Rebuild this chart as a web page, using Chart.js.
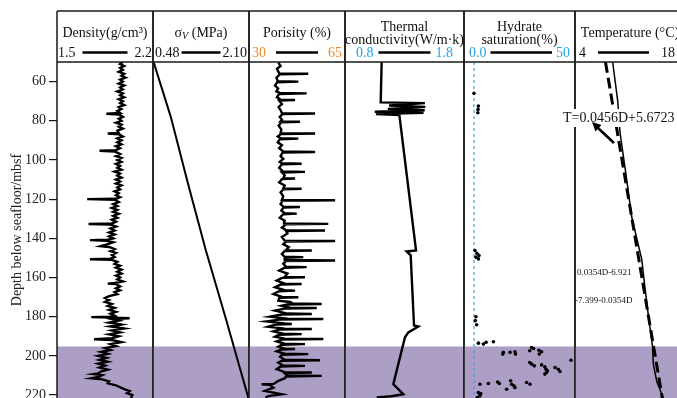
<!DOCTYPE html>
<html>
<head>
<meta charset="utf-8">
<script src="https://cdn.jsdelivr.net/npm/chart.js@4.4.0/dist/chart.umd.min.js"></script>
<style>
  html, body { margin: 0; padding: 0; background: #fff; overflow: hidden; }
  #wrap { position: relative; width: 677px; height: 398px; overflow: hidden; background: #fff; }
  #wrap canvas { position: absolute; left: 0; top: 0; }
</style>
</head>
<body>
<div id="wrap"></div>
<script>
// depth axis (mbsf)
const DEPTH_MIN = 50;
const DEPTH_MAX = 221.5;
const depthTicks = [60, 80, 100, 120, 140, 160, 180, 200, 220];
const hydrateZoneTop = 195.2;

// [depth, density g/cm3]
const densityLog = [
  [50.0, 1.98], [51.0, 1.96], [52.0, 1.99], [53.0, 1.96], [54.0, 1.98], [55.0, 1.95], [56.0, 1.99], [57.0, 1.97],
  [58.0, 2.00], [59.0, 1.96], [60.0, 1.98], [61.0, 1.95], [62.0, 1.99], [63.0, 1.96], [64.0, 1.98], [65.0, 1.94],
  [66.0, 1.98], [67.0, 1.96], [68.0, 1.99], [69.0, 1.95], [70.0, 1.98], [71.0, 1.96], [72.0, 1.99], [73.0, 1.95],
  [74.0, 1.97], [75.0, 1.94], [76.0, 1.96], [76.4, 1.86], [76.8, 1.95], [78.0, 1.98], [79.0, 1.95], [80.0, 1.97],
  [81.0, 1.93], [82.0, 1.97], [83.0, 1.95], [84.0, 1.98], [85.0, 1.94], [86.2, 1.95], [86.5, 1.87], [86.9, 1.95],
  [88.0, 1.98], [89.0, 1.94], [90.0, 1.97], [91.0, 1.94], [92.0, 1.97], [93.0, 1.93], [94.0, 1.96], [95.0, 1.93],
  [95.3, 1.81], [95.7, 1.92], [97.0, 1.96], [98.0, 1.93], [99.0, 1.97], [100.0, 1.94], [101.0, 1.97], [102.0, 1.93],
  [103.0, 1.96], [104.0, 1.94], [105.0, 1.97], [106.0, 1.92], [107.0, 1.96], [108.0, 1.94], [109.0, 1.97], [110.0, 1.93],
  [111.0, 1.96], [112.0, 1.93], [113.0, 1.97], [114.0, 1.94], [115.0, 1.96], [116.0, 1.92], [117.0, 1.95], [118.0, 1.93],
  [119.0, 1.96], [119.8, 1.93], [120.0, 1.72], [120.3, 1.92], [121.5, 1.95], [122.5, 1.91], [123.5, 1.94], [124.5, 1.90],
  [125.5, 1.94], [126.5, 1.91], [127.5, 1.95], [128.5, 1.91], [129.5, 1.94], [130.5, 1.90], [131.5, 1.93], [132.4, 1.90],
  [132.7, 1.73], [133.0, 1.89], [134.0, 1.93], [135.0, 1.89], [136.0, 1.92], [137.0, 1.88], [138.0, 1.92], [139.0, 1.88],
  [140.0, 1.91], [140.7, 1.87], [140.9, 1.74], [141.2, 1.86], [142.0, 1.91], [143.0, 1.87], [144.0, 1.82], [144.4, 1.88],
  [145.5, 1.92], [146.5, 1.89], [147.5, 1.93], [148.5, 1.90], [149.5, 1.92], [150.4, 1.89], [150.7, 1.74], [151.0, 1.90],
  [152.0, 1.94], [153.0, 1.92], [154.0, 1.96], [155.0, 1.93], [156.0, 1.97], [157.0, 1.94], [158.0, 1.97], [159.0, 1.93],
  [160.0, 1.96], [161.0, 1.94], [162.0, 1.98], [162.8, 1.92], [163.1, 1.87], [163.4, 1.93], [164.5, 1.96], [165.5, 1.93],
  [166.5, 1.96], [167.5, 1.92], [168.5, 1.94], [169.5, 1.88], [170.5, 1.85], [171.5, 1.88], [172.5, 1.85], [173.5, 1.90],
  [174.5, 1.87], [175.5, 1.92], [176.5, 1.88], [177.5, 1.93], [178.5, 1.89], [179.5, 1.92], [180.0, 1.88], [180.2, 1.75],
  [180.5, 1.90], [180.8, 2.03], [181.2, 1.90], [182.0, 1.95], [183.0, 1.88], [184.0, 1.97], [185.0, 1.89], [186.0, 1.99],
  [187.0, 1.90], [188.0, 1.96], [189.0, 1.88], [190.0, 1.95], [191.0, 1.90], [191.5, 1.77], [191.9, 1.90], [193.0, 1.97],
  [194.0, 1.89], [195.0, 1.93], [196.0, 1.85], [197.0, 1.89], [198.0, 1.82], [199.0, 1.87], [200.0, 1.80], [201.0, 1.86],
  [202.0, 1.81], [203.0, 1.87], [204.0, 1.80], [205.0, 1.85], [206.0, 1.81], [207.0, 1.87], [208.0, 1.82], [209.0, 1.80],
  [209.3, 1.77], [209.8, 1.83], [210.8, 1.80], [211.5, 1.75], [212.0, 1.83], [213.0, 1.88], [214.0, 1.87], [215.0, 1.93],
  [216.0, 1.96], [217.0, 1.99], [218.0, 2.03], [219.0, 2.01], [220.0, 2.05], [221.5, 2.04]
];

// [depth, vertical stress MPa]
const stressLog = [[50, 0.49], [78, 0.78], [112, 1.07], [146, 1.37], [180, 1.70], [221.5, 2.09]];

// [depth, porosity %]
const porosityLog = [
  [50.3, 40.7], [52.0, 41.5], [53.5, 40.2], [55.8, 41.0], [56.0, 51.6], [56.3, 41.2], [58.0, 40.0], [59.8, 40.5],
  [60.0, 48.0], [60.3, 40.3], [62.0, 39.5], [63.5, 40.6], [65.0, 40.0], [65.8, 41.2], [66.0, 51.0], [66.3, 41.0],
  [68.0, 40.2], [69.2, 41.5], [69.4, 46.8], [69.7, 41.0], [71.5, 42.0], [73.0, 40.8], [74.5, 41.5], [76.1, 42.0],
  [76.3, 54.1], [76.6, 42.2], [78.0, 41.2], [79.5, 42.0], [80.3, 41.5], [80.5, 48.6], [80.8, 41.8], [82.5, 40.8],
  [84.5, 41.8], [86.3, 41.5], [86.5, 54.1], [86.8, 41.6], [88.0, 40.5], [88.9, 41.5], [89.1, 48.0], [89.4, 41.2],
  [91.0, 40.5], [92.5, 42.0], [94.0, 41.0], [95.7, 42.5], [95.9, 54.1], [96.2, 42.3], [98.0, 41.5], [99.5, 42.5],
  [101.0, 41.2], [101.7, 42.0], [101.9, 49.2], [102.2, 42.0], [104.0, 41.0], [105.9, 42.5], [106.1, 50.4], [106.4, 42.0],
  [107.8, 43.0], [109.3, 42.5], [109.5, 46.8], [109.8, 42.0], [111.5, 41.0], [113.0, 43.0], [114.5, 42.5], [114.7, 49.2],
  [115.0, 42.5], [116.5, 41.5], [118.5, 42.5], [120.4, 42.0], [120.6, 61.4], [120.9, 42.2], [122.5, 41.5], [123.8, 42.5],
  [124.0, 48.6], [124.3, 42.5], [125.8, 41.8], [127.2, 43.0], [127.4, 47.4], [127.7, 42.5], [129.5, 41.2], [131.0, 43.0],
  [132.4, 42.8], [132.6, 58.9], [132.9, 43.5], [134.5, 42.0], [135.8, 43.5], [136.0, 57.7], [136.3, 43.5], [137.5, 44.0],
  [139.3, 42.0], [141.2, 43.0], [141.4, 61.4], [141.7, 43.5], [143.0, 42.5], [144.5, 44.5], [146.0, 43.5], [146.2, 52.9],
  [146.5, 43.0], [148.0, 42.0], [149.4, 43.0], [149.6, 49.8], [149.9, 43.0], [151.1, 43.0], [151.3, 61.4], [151.6, 43.5],
  [153.0, 42.5], [154.5, 43.5], [154.7, 51.0], [155.0, 43.0], [156.5, 41.0], [158.0, 44.0], [159.7, 43.0], [159.9, 50.4],
  [160.2, 42.0], [161.6, 40.1], [163.1, 43.0], [163.3, 49.2], [163.6, 41.5], [165.0, 39.5], [166.5, 43.0], [166.7, 46.8],
  [167.0, 41.0], [168.4, 38.9], [169.9, 42.0], [170.1, 48.0], [170.4, 41.0], [171.8, 40.7], [172.5, 45.0], [173.3, 46.0],
  [173.5, 56.5], [173.8, 44.0], [174.4, 41.9], [175.4, 45.0], [175.6, 54.7], [175.9, 43.0], [176.9, 39.5], [178.4, 44.0],
  [178.6, 52.9], [178.9, 42.0], [180.0, 37.6], [181.0, 44.0], [181.2, 57.1], [181.5, 41.0], [182.4, 36.4], [183.5, 43.0],
  [183.7, 45.6], [184.0, 40.0], [185.1, 37.0], [186.1, 43.0], [186.3, 52.9], [186.6, 41.0], [187.5, 38.9], [188.7, 42.5],
  [188.9, 49.2], [189.2, 41.0], [190.2, 39.5], [191.2, 43.0], [191.4, 57.1], [191.7, 42.0], [192.6, 40.1], [193.8, 43.0],
  [194.0, 50.4], [194.3, 42.0], [195.3, 40.7], [196.3, 43.0], [196.5, 46.8], [196.8, 41.5], [197.7, 40.1], [198.9, 43.0],
  [199.1, 51.6], [199.4, 42.0], [200.5, 41.3], [202.0, 43.0], [202.2, 55.9], [202.5, 42.0], [203.4, 40.7], [204.9, 42.5],
  [205.1, 50.4], [205.4, 41.5], [206.8, 40.1], [208.3, 43.0], [208.5, 52.9], [208.8, 43.0], [210.0, 44.0], [210.2, 56.5],
  [210.5, 43.5], [211.4, 43.1], [212.7, 40.7], [214.3, 39.0], [214.5, 34.6], [214.8, 37.5], [216.2, 38.9], [217.9, 35.8],
  [219.6, 41.9], [220.5, 37.0], [221.5, 36.0]
];

// [depth, thermal conductivity W/m.k]
const thermalLog = [
  [50.0, 1.108], [70.6, 1.100], [71.0, 1.472], [72.2, 1.170], [72.9, 1.475], [73.9, 1.160], [74.6, 1.470],
  [75.4, 1.050], [75.9, 1.460], [76.6, 1.060], [77.1, 1.257], [146.2, 1.397], [146.7, 1.318], [148.7, 1.352],
  [184.5, 1.380], [185.0, 1.416], [188.0, 1.332], [190.5, 1.304], [214.4, 1.206], [219.6, 1.290], [220.6, 1.190],
  [221.2, 1.066]
];

// [depth, hydrate saturation %]
const hydrateSamples = [
  [66.0, 0.0], [72.5, 2.3], [74.2, 2.1], [75.9, 2.0],
  [146.2, 0.5], [147.6, 1.5], [148.8, 2.6], [149.6, 1.0], [150.5, 2.3],
  [180.0, 1.0], [182.0, 0.7], [184.1, 1.4],
  [193.5, 2.3], [194.0, 4.9], [193.1, 6.3], [192.8, 10.1],
  [198.2, 15.3], [199.1, 15.0], [198.2, 18.8], [197.9, 21.3], [199.1, 21.6],
  [195.7, 30.0], [196.2, 31.0], [197.4, 29.0], [197.1, 33.8], [199.1, 34.0], [197.9, 35.2],
  [203.4, 29.0], [204.2, 30.0], [205.1, 31.4], [204.6, 35.2], [205.6, 36.9], [206.8, 37.5], [207.6, 38.2],
  [208.5, 37.8], [209.3, 36.9], [205.9, 42.2], [206.8, 43.9], [208.0, 44.8], [202.2, 50.5],
  [214.5, 3.1], [214.1, 7.5], [213.3, 12.3], [214.1, 13.2], [212.7, 19.1], [214.5, 19.6], [215.3, 20.8],
  [216.2, 21.3], [213.6, 27.4], [214.5, 29.2], [217.0, 17.0],
  [218.7, 2.3], [219.6, 3.1], [220.4, 3.1], [221.3, 1.7], [219.2, 3.5]
];

// [depth, temperature C]
const temperatureLog = [
  [50, 9.07], [70, 9.75], [86, 10.06], [110, 10.96], [129, 11.63], [151, 13.0], [163, 13.35],
  [180, 13.89], [195, 14.43], [204, 14.54], [213, 15.0], [221.5, 15.88]
];
const temperatureFit = [[50, 8.1], [221.5, 15.75]];

const SERIF = '"Liberation Serif", "Times New Roman", serif';
const PURPLE = '#ad9ec6';
const ORANGE = '#ef8a2a';
const BLUE = '#24a3e2';
const CANVAS_W = 695;
const CANVAS_H = 398;
const FRAME_TOP = 11;
const HEADER_BOTTOM = 62;

Chart.defaults.font.family = SERIF;

function toPoints(rows) {
  return rows.map((r) => ({ x: r[1], y: r[0] }));
}

function logLine(rows, width, extra) {
  return Object.assign({
    data: toPoints(rows),
    borderColor: '#000',
    borderWidth: width,
    pointRadius: 0,
    tension: 0,
    fill: false,
  }, extra || {});
}

function drawRich(ctx, parts, cx, y, size) {
  const fontFor = (p) => (p.italic ? 'italic ' : '') + (p.sub ? size * 0.72 : size) + 'px ' + SERIF;
  const widths = parts.map((p) => {
    ctx.font = fontFor(p);
    return ctx.measureText(p.t).width;
  });
  let x = cx - widths.reduce((a, b) => a + b, 0) / 2;
  ctx.textAlign = 'left';
  parts.forEach((p, i) => {
    ctx.font = fontFor(p);
    ctx.fillText(p.t, x, y + (p.sub ? 3 : 0));
    x += widths[i];
  });
}

function annotateTemperature(ctx) {
  ctx.save();
  ctx.fillStyle = '#fff';
  ctx.fillRect(562, 109, 116, 18);
  ctx.fillStyle = '#111';
  ctx.font = '14px ' + SERIF;
  ctx.textAlign = 'left';
  ctx.textBaseline = 'middle';
  ctx.fillText('T=0.0456D+5.6723', 563, 118);

  // arrow
  ctx.strokeStyle = '#000';
  ctx.lineWidth = 2.6;
  ctx.beginPath();
  ctx.moveTo(614, 143);
  ctx.lineTo(598, 128);
  ctx.stroke();
  ctx.fillStyle = '#000';
  ctx.beginPath();
  ctx.moveTo(592, 122);
  ctx.lineTo(601.5, 125);
  ctx.lineTo(595.5, 131.5);
  ctx.closePath();
  ctx.fill();

  ctx.fillStyle = '#111';
  ctx.font = '9px ' + SERIF;
  ctx.fillText('0.0354D-6.921', 577, 273);
  ctx.fillText('-7.399-0.0354D', 575, 301);
  ctx.restore();
}

const panels = [
  {
    left: 57, right: 153, min: 1.5, max: 2.2,
    title: [[{ t: 'Density(g/cm³)' }]],
    lo: '1.5', hi: '2.2', color: '#111', inset: 1, gap: 7,
    datasets: [logLine(densityLog, 2.4)],
  },
  {
    left: 153, right: 249, min: 0.48, max: 2.10,
    title: [[{ t: 'σ' }, { t: 'V', sub: true, italic: true }, { t: ' (MPa)' }]],
    lo: '0.48', hi: '2.10', color: '#111', inset: 2, gap: 2,
    datasets: [logLine(stressLog, 2)],
  },
  {
    left: 249, right: 345, min: 30, max: 65,
    title: [[{ t: 'Porisity (%)' }]],
    lo: '30', hi: '65', color: ORANGE, inset: 3, gap: 10,
    datasets: [logLine(porosityLog, 2.4)],
  },
  {
    left: 345, right: 464, min: 0.8, max: 1.8,
    title: [[{ t: 'Thermal' }], [{ t: 'conductivity(W/m·k)' }]],
    lo: '0.8', hi: '1.8', color: BLUE, inset: 11, gap: 5,
    datasets: [logLine(thermalLog, 2.4)],
  },
  {
    left: 464, right: 575, min: -5.2, max: 52.6,
    title: [[{ t: 'Hydrate' }], [{ t: 'saturation(%)' }]],
    lo: '0.0', hi: '50', color: BLUE, inset: 5, gap: 4,
    datasets: [
      {
        data: toPoints(hydrateSamples),
        showLine: false,
        pointRadius: 1.8,
        pointBackgroundColor: '#000',
        pointBorderWidth: 0,
      },
      logLine([[DEPTH_MIN, 0], [DEPTH_MAX, 0]], 1.2, { borderColor: '#3b9fdf', borderDash: [3, 3] }),
    ],
  },
  {
    left: 575, right: 679, min: 4, max: 18, titleShift: 3,
    title: [[{ t: 'Temperature (°C)' }]],
    lo: '4', hi: '18', color: '#111', inset: 4, gap: 12,
    datasets: [
      logLine(temperatureLog, 1.5),
      logLine(temperatureFit, 3, { borderDash: [11, 5] }),
    ],
    annotate: annotateTemperature,
  },
];

function makeFrame(panel) {
  return {
    id: 'logFrame',
    beforeDatasetsDraw(chart) {
      const { ctx, chartArea: a, scales } = chart;
      const yTop = scales.y.getPixelForValue(hydrateZoneTop);
      ctx.save();
      ctx.fillStyle = PURPLE;
      ctx.fillRect(a.left, yTop, a.right - a.left, a.bottom - yTop);
      ctx.restore();
    },
    afterDraw(chart) {
      const { ctx, chartArea: a } = chart;
      ctx.save();
      ctx.strokeStyle = '#1a1a1a';
      ctx.lineWidth = 1.5;
      ctx.beginPath();
      ctx.moveTo(a.left, FRAME_TOP); ctx.lineTo(a.left, a.bottom);
      ctx.moveTo(a.right, FRAME_TOP); ctx.lineTo(a.right, a.bottom);
      ctx.moveTo(a.left, FRAME_TOP); ctx.lineTo(a.right, FRAME_TOP);
      ctx.moveTo(a.left, a.top); ctx.lineTo(a.right, a.top);
      ctx.stroke();

      // header title
      ctx.fillStyle = '#111';
      ctx.textBaseline = 'middle';
      const cx = (a.left + a.right) / 2 + (panel.titleShift || 0);
      const rows = panel.title.length === 1 ? [33] : [27, 40];
      panel.title.forEach((line, i) => drawRich(ctx, line, cx, rows[i], 14));

      // range row: lo ---- hi
      ctx.font = '14px ' + SERIF;
      ctx.fillStyle = panel.color;
      ctx.textAlign = 'left';
      const lx = a.left + panel.inset;
      ctx.fillText(panel.lo, lx, 53);
      const lw = ctx.measureText(panel.lo).width;
      ctx.textAlign = 'right';
      const rx = a.right - panel.inset;
      ctx.fillText(panel.hi, rx, 53);
      const rw = ctx.measureText(panel.hi).width;
      ctx.strokeStyle = '#000';
      ctx.lineWidth = 2.5;
      ctx.beginPath();
      ctx.moveTo(lx + lw + panel.gap, 52.5);
      ctx.lineTo(rx - rw - panel.gap, 52.5);
      ctx.stroke();
      ctx.restore();

      if (panel.annotate) panel.annotate(ctx, chart);
    },
  };
}

const wrap = document.getElementById('wrap');
const charts = panels.map((panel, i) => {
  const canvas = document.createElement('canvas');
  canvas.width = CANVAS_W;
  canvas.height = CANVAS_H;
  wrap.appendChild(canvas);
  const first = i === 0;
  return new Chart(canvas, {
    type: 'line',
    data: { datasets: panel.datasets },
    options: {
      responsive: false,
      animation: false,
      events: [],
      layout: {
        autoPadding: false,
        padding: { left: first ? 0 : panel.left, right: CANVAS_W - panel.right, top: HEADER_BOTTOM, bottom: 0 },
      },
      plugins: { legend: { display: false }, tooltip: { enabled: false } },
      scales: {
        x: { type: 'linear', min: panel.min, max: panel.max, display: false },
        y: {
          type: 'linear',
          reverse: true,
          min: DEPTH_MIN,
          max: DEPTH_MAX,
          display: first,
          afterBuildTicks: (s) => { s.ticks = depthTicks.map((v) => ({ value: v })); },
          afterFit: (s) => {
            if (!first) return;
            s.width = panel.left;
            s.paddingTop = 0;
            s.paddingBottom = 0;
          },
          grid: { drawOnChartArea: false, drawTicks: true, tickLength: 8, color: '#111', lineWidth: 1.2 },
          border: { display: false },
          ticks: { font: { family: SERIF, size: 14 }, color: '#222', padding: 3 },
          title: {
            display: true,
            text: 'Depth below seafloor/mbsf',
            font: { family: SERIF, size: 14 },
            color: '#222',
            padding: { top: 9, bottom: 0 },
          },
        },
      },
    },
    plugins: [makeFrame(panel)],
  });
});
</script>
</body>
</html>
